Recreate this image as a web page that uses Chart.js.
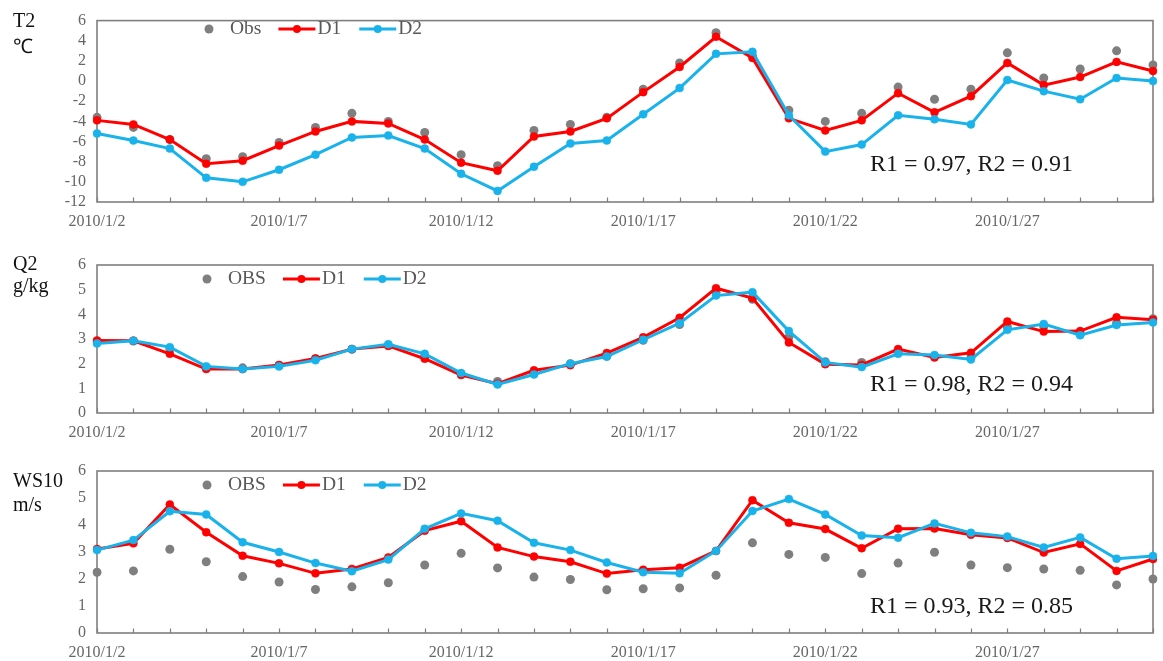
<!DOCTYPE html>
<html>
<head>
<meta charset="utf-8">
<script src="https://cdn.jsdelivr.net/npm/chart.js@4/dist/chart.umd.min.js"></script>
<style>
  html, body { margin: 0; padding: 0; background: #ffffff; }
  #wrap { position: relative; width: 1163px; height: 661px; overflow: hidden; }
  canvas { position: absolute; left: 0; }
</style>
</head>
<body>
<div id="wrap">
  <canvas id="c1" width="1163" height="240" style="top:0px"></canvas>
  <canvas id="c2" width="1163" height="205" style="top:240px"></canvas>
  <canvas id="c3" width="1163" height="216" style="top:445px"></canvas>
</div>
<script>
// Daily dates, 2 to 31 January 2010
const dates = [
  '2010/1/2','2010/1/3','2010/1/4','2010/1/5','2010/1/6','2010/1/7','2010/1/8','2010/1/9','2010/1/10','2010/1/11',
  '2010/1/12','2010/1/13','2010/1/14','2010/1/15','2010/1/16','2010/1/17','2010/1/18','2010/1/19','2010/1/20','2010/1/21',
  '2010/1/22','2010/1/23','2010/1/24','2010/1/25','2010/1/26','2010/1/27','2010/1/28','2010/1/29','2010/1/30','2010/1/31'
];

// 2 m temperature (°C)
const t2Obs = [-3.6,-4.6,-5.8,-7.7,-7.5,-6.1,-4.6,-3.2,-4.0,-5.1,-7.3,-8.4,-4.9,-4.3,-3.6,-0.8,1.8,4.8,2.5,-2.9,-4.0,-3.2,-0.6,-1.8,-0.8,2.8,0.3,1.2,3.0,1.6];
const t2D1  = [-3.9,-4.3,-5.8,-8.2,-7.9,-6.4,-5.0,-4.0,-4.2,-5.8,-8.1,-8.9,-5.5,-5.0,-3.7,-1.1,1.4,4.4,2.3,-3.7,-4.9,-3.9,-1.2,-3.1,-1.5,1.8,-0.4,0.4,1.9,1.0];
const t2D2  = [-5.2,-5.9,-6.7,-9.6,-10.0,-8.8,-7.3,-5.6,-5.4,-6.7,-9.2,-10.9,-8.5,-6.2,-5.9,-3.3,-0.7,2.7,2.9,-3.4,-7.0,-6.3,-3.4,-3.8,-4.3,0.1,-1.0,-1.8,0.3,0.0];

// 2 m specific humidity (g/kg)
const q2Obs = [2.90,2.92,2.60,1.85,1.83,1.93,2.20,2.58,2.75,2.30,1.58,1.28,1.60,2.00,2.30,2.95,3.59,4.90,4.61,3.07,2.08,2.05,2.45,2.30,2.25,3.50,3.50,3.20,3.65,3.82];
const q2D1  = [2.94,2.93,2.40,1.78,1.78,1.95,2.21,2.59,2.72,2.20,1.54,1.19,1.73,1.94,2.43,3.07,3.86,5.06,4.66,2.86,1.98,1.95,2.59,2.25,2.44,3.71,3.30,3.32,3.88,3.78];
const q2D2  = [2.82,2.93,2.67,1.89,1.78,1.89,2.14,2.59,2.79,2.40,1.62,1.16,1.56,2.00,2.29,2.97,3.64,4.76,4.90,3.32,2.05,1.86,2.40,2.35,2.17,3.37,3.61,3.15,3.57,3.67];

// 10 m wind speed (m/s)
const wsObs = [2.25,2.30,3.10,2.64,2.09,1.89,1.61,1.71,1.86,2.52,2.95,2.41,2.07,1.98,1.60,1.64,1.67,2.14,3.34,2.91,2.80,2.20,2.59,2.99,2.52,2.42,2.37,2.32,1.78,2.00];
const wsD1  = [3.11,3.32,4.76,3.73,2.86,2.58,2.21,2.37,2.80,3.79,4.14,3.17,2.83,2.64,2.20,2.34,2.42,3.04,4.92,4.08,3.85,3.14,3.86,3.87,3.64,3.52,2.98,3.30,2.30,2.74];
const wsD2  = [3.07,3.44,4.51,4.39,3.36,3.00,2.59,2.29,2.72,3.86,4.43,4.16,3.34,3.07,2.61,2.25,2.21,3.04,4.52,4.96,4.39,3.61,3.53,4.06,3.71,3.57,3.17,3.54,2.75,2.85];

// Y-axis tick settings per panel
const t2Ticks = { min: -12, max: 6, step: 2 };
const q2Ticks = { min: 0, max: 6, step: 1 };
const wsTicks = { min: 0, max: 6, step: 1 };

const OBS_COLOR = '#7f7f7f';
const D1_COLOR = '#ff0000';
const D2_COLOR = '#19b2ea';
const AXIS_COLOR = '#7f7f7f';
const TEXT_GRAY = '#666666';
const SERIF = '"Liberation Serif", "Times New Roman", serif';

// Frame, inward tick marks, legend and annotations
const panelDecor = {
  id: 'panelDecor',
  beforeDatasetsDraw(chart, args, opts) {
    const { ctx, chartArea: a } = chart;
    const xs = chart.scales.x;
    ctx.save();
    ctx.strokeStyle = AXIS_COLOR;
    ctx.lineWidth = 1.6;
    ctx.strokeRect(a.left, a.top, a.right - a.left, a.bottom - a.top);
    ctx.lineWidth = 1.2;
    ctx.beginPath();
    for (let i = 0; i < xs.ticks.length; i++) {
      const px = Math.round(xs.getPixelForTick(i)) + 0.5;
      ctx.moveTo(px, a.bottom);
      ctx.lineTo(px, a.bottom - 4.5);
    }
    ctx.stroke();
    ctx.restore();
  },
  afterDraw(chart, args, opts) {
    const { ctx } = chart;
    const top = opts.canvasTop;
    ctx.save();
    // variable name and unit
    ctx.fillStyle = '#111111';
    ctx.font = '20px ' + SERIF;
    ctx.textAlign = 'left';
    ctx.textBaseline = 'middle';
    ctx.fillText(opts.name, 13, opts.nameY - top);
    ctx.fillText(opts.unit, 13, opts.unitY - top);

    // legend
    const ly = opts.legendY - top;
    ctx.font = '19.5px ' + SERIF;
    let x = opts.legendX;
    ctx.beginPath();
    ctx.arc(x, ly, 4.5, 0, Math.PI * 2);
    ctx.fillStyle = OBS_COLOR;
    ctx.fill();
    x += 21;
    ctx.fillStyle = '#595959';
    ctx.fillText(opts.obsLabel, x, ly);
    x += ctx.measureText(opts.obsLabel).width + 17;
    const series = [['D1', D1_COLOR], ['D2', D2_COLOR]];
    series.forEach(([lab, col]) => {
      ctx.strokeStyle = col;
      ctx.lineWidth = 3;
      ctx.beginPath();
      ctx.moveTo(x, ly);
      ctx.lineTo(x + 37, ly);
      ctx.stroke();
      ctx.beginPath();
      ctx.arc(x + 18.5, ly, 4, 0, Math.PI * 2);
      ctx.fillStyle = col;
      ctx.fill();
      x += 39;
      ctx.fillStyle = '#595959';
      ctx.fillText(lab, x, ly);
      x += ctx.measureText(lab).width + 18;
    });

    // correlation note
    ctx.fillStyle = '#1a1a1a';
    ctx.font = '24px ' + SERIF;
    ctx.fillText(opts.note, 870, opts.noteY - top);
    ctx.restore();
  }
};

function makePanel(id, canvasTop, canvasH, areaTop, areaBottom, ticks, obs, d1, d2, deco) {
  const xAxisH = 26;
  const ctx = document.getElementById(id).getContext('2d');
  const lineSet = (label, data, color, order) => ({
    label, data, order,
    borderColor: color,
    backgroundColor: color,
    borderWidth: 3,
    pointRadius: 4,
    pointBackgroundColor: color,
    pointBorderColor: color,
    pointBorderWidth: 0.5,
    tension: 0,
    fill: false
  });
  return new Chart(ctx, {
    type: 'line',
    data: {
      labels: dates,
      datasets: [
        {
          label: deco.obsLabel, data: obs, order: 3,
          showLine: false,
          pointRadius: 4.5,
          pointBackgroundColor: OBS_COLOR,
          pointBorderColor: OBS_COLOR,
          pointBorderWidth: 0,
          borderColor: OBS_COLOR,
          backgroundColor: OBS_COLOR
        },
        lineSet('D1', d1, D1_COLOR, 2),
        lineSet('D2', d2, D2_COLOR, 1)
      ]
    },
    options: {
      responsive: false,
      animation: false,
      devicePixelRatio: 1,
      layout: {
        padding: {
          left: 0,
          right: 2,
          top: areaTop - canvasTop,
          bottom: canvasTop + canvasH - areaBottom - xAxisH
        }
      },
      plugins: {
        legend: { display: false },
        tooltip: { enabled: false },
        panelDecor: Object.assign({ canvasTop }, deco)
      },
      scales: {
        x: {
          type: 'category',
          offset: false,
          border: { display: false },
          grid: { display: false, drawTicks: false },
          ticks: {
            autoSkip: false,
            maxRotation: 0,
            padding: 10,
            color: TEXT_GRAY,
            font: { family: SERIF, size: 16, lineHeight: 1.2 },
            callback: function (v, i) { return i % 5 === 0 ? this.getLabelForValue(v) : ''; }
          },
          afterFit(scale) { scale.height = xAxisH; }
        },
        y: {
          min: ticks.min,
          max: ticks.max,
          border: { display: false },
          grid: { display: false, drawTicks: false },
          ticks: {
            autoSkip: false,
            stepSize: ticks.step,
            padding: 11,
            color: TEXT_GRAY,
            font: { family: SERIF, size: 16 }
          },
          afterFit(scale) { scale.width = 97; }
        }
      }
    },
    plugins: [panelDecor]
  });
}

makePanel('c1', 0, 240, 15, 202, t2Ticks, t2Obs, t2D1, t2D2, {
  name: 'T2', unit: '\u2103', nameY: 21.5, unitY: 48,
  obsLabel: 'Obs', legendX: 209, legendY: 29,
  note: 'R1 = 0.97, R2 = 0.91', noteY: 165
});
makePanel('c2', 240, 205, 265, 413, q2Ticks, q2Obs, q2D1, q2D2, {
  name: 'Q2', unit: 'g/kg', nameY: 265, unitY: 287,
  obsLabel: 'OBS', legendX: 207, legendY: 279,
  note: 'R1 = 0.98, R2 = 0.94', noteY: 385
});
makePanel('c3', 445, 216, 471, 633, wsTicks, wsObs, wsD1, wsD2, {
  name: 'WS10', unit: 'm/s', nameY: 482, unitY: 506,
  obsLabel: 'OBS', legendX: 207, legendY: 485,
  note: 'R1 = 0.93, R2 = 0.85', noteY: 607
});
</script>
</body>
</html>
